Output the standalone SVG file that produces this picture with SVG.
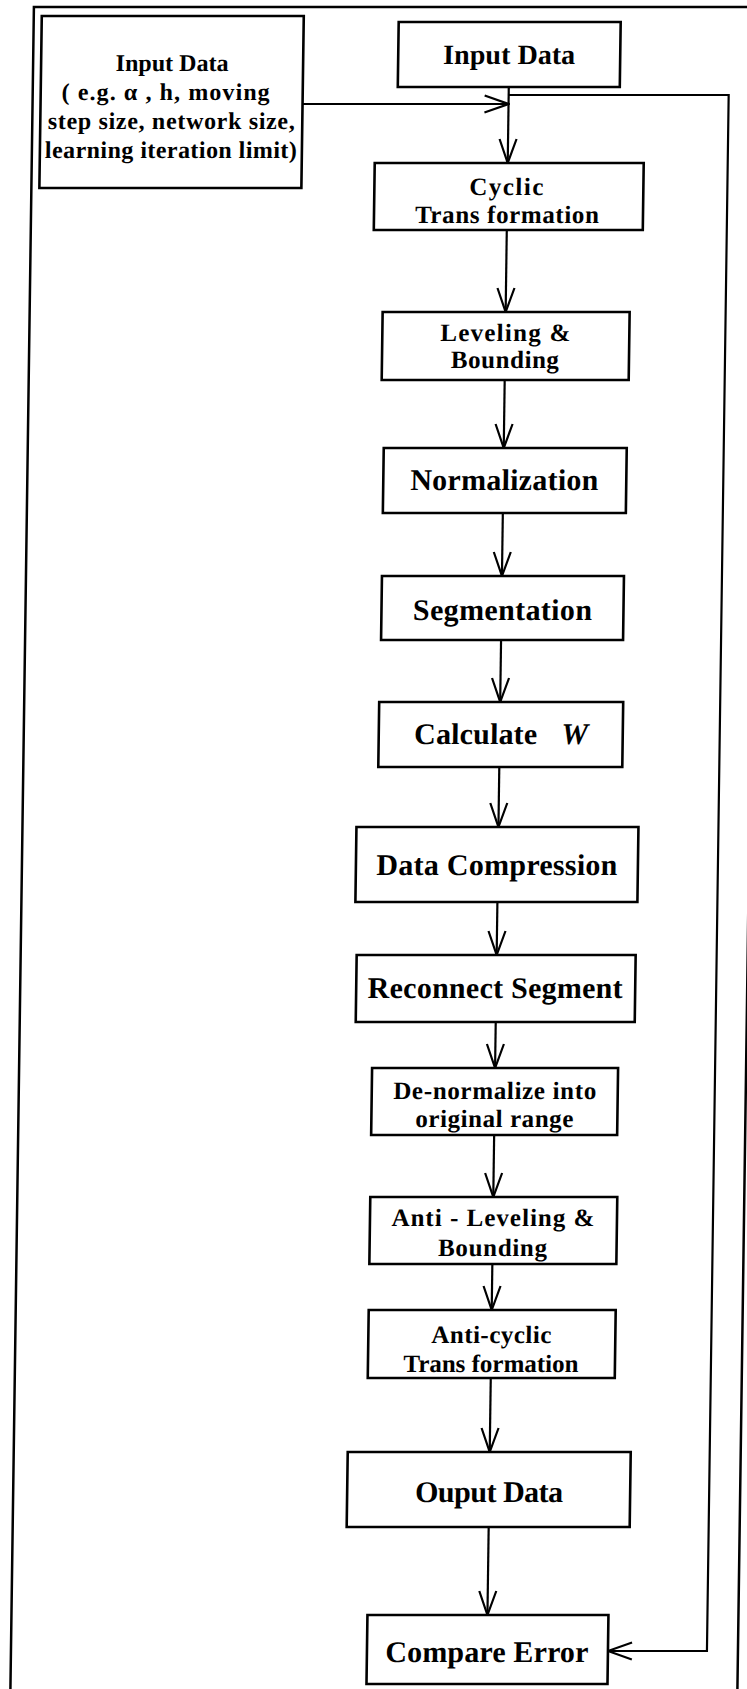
<svg xmlns="http://www.w3.org/2000/svg" width="747" height="1689" viewBox="0 0 747 1689">
  <defs>
    <marker id="arrow" viewBox="0 0 26 20" refX="25" refY="10" markerWidth="26" markerHeight="20" markerUnits="userSpaceOnUse" orient="auto">
      <path d="M1,1.5 L25,10 L1,18.5" fill="none" stroke="#000" stroke-width="2.2"/>
    </marker>
    <style>
      .frame { fill: none; stroke: #000; stroke-width: 2.5; }
      .box { fill: #fff; stroke: #000; stroke-width: 2.6; }
      .edge { fill: none; stroke: #000; stroke-width: 2.2; marker-end: url(#arrow); }
      text { font-family: "Liberation Serif", "Times New Roman", serif; font-weight: bold; fill: #000; text-anchor: middle; }
      .t1 { font-size: 30px; }
      .t2 { font-size: 25px; }
      .ts { font-size: 24px; }
      .tin { font-size: 28px; }
    </style>
  </defs>
  <rect width="747" height="1689" fill="#fff"/>
  <!-- whole sheet is drawn with a slight horizontal skew -->
  <g transform="skewX(-0.8)">
    <rect class="frame" x="34" y="7" width="727" height="1720"/>

    <g id="connectors">
      <line class="edge" x1="304" y1="104" x2="510" y2="104"/>
      <line class="edge" x1="510" y1="87" x2="510" y2="163"/>
      <polyline class="edge" points="510,95 730,95 730,1651 631,1651"/>
      <line class="edge" x1="510" y1="230" x2="510" y2="312"/>
      <line class="edge" x1="510" y1="380" x2="510" y2="448"/>
      <line class="edge" x1="510" y1="513" x2="510" y2="576"/>
      <line class="edge" x1="510" y1="640" x2="510" y2="702"/>
      <line class="edge" x1="510" y1="767" x2="510" y2="827"/>
      <line class="edge" x1="510" y1="902" x2="510" y2="955"/>
      <line class="edge" x1="510" y1="1022" x2="510" y2="1068"/>
      <line class="edge" x1="510" y1="1135" x2="510" y2="1197"/>
      <line class="edge" x1="510" y1="1264" x2="510" y2="1310"/>
      <line class="edge" x1="510" y1="1378" x2="510" y2="1452"/>
      <line class="edge" x1="510" y1="1527" x2="510" y2="1615"/>
    </g>

    <g id="params">
      <rect class="box" x="42" y="16" width="262" height="172"/>
      <text class="ts" x="173" y="71" textLength="113">Input Data</text>
      <text class="ts" x="167" y="100" textLength="208">( e.g. α  , h, moving</text>
      <text class="ts" x="173" y="129" textLength="247">step size, network size,</text>
      <text class="ts" x="173" y="158" textLength="252">learning iteration limit)</text>
    </g>

    <g id="input">
      <rect class="box" x="399" y="22" width="222" height="65"/>
      <text class="tin" x="510" y="64" textLength="132">Input Data</text>
    </g>

    <g id="cyclic">
      <rect class="box" x="377" y="163" width="269" height="67"/>
      <text class="t2" x="509" y="195" textLength="74">Cyclic</text>
      <text class="t2" x="510" y="223" textLength="184">Trans formation</text>
    </g>

    <g id="leveling">
      <rect class="box" x="387" y="312" width="247" height="68"/>
      <text class="t2" x="510" y="341" textLength="130">Leveling &amp;</text>
      <text class="t2" x="510" y="368" textLength="108">Bounding</text>
    </g>

    <g id="normalization">
      <rect class="box" x="390" y="448" width="243" height="65"/>
      <text class="t1" x="511" y="490" textLength="188">Normalization</text>
    </g>

    <g id="segmentation">
      <rect class="box" x="390" y="576" width="242" height="64"/>
      <text class="t1" x="511" y="620" textLength="179">Segmentation</text>
    </g>

    <g id="calculate">
      <rect class="box" x="389" y="702" width="244" height="65"/>
      <text class="t1" x="486" y="744" textLength="123">Calculate</text>
      <text class="t1" x="585" y="744" font-style="italic">W</text>
    </g>

    <g id="compression">
      <rect class="box" x="368" y="827" width="282" height="75"/>
      <text class="t1" x="509" y="875" textLength="241">Data Compression</text>
    </g>

    <g id="reconnect">
      <rect class="box" x="370" y="955" width="279" height="67"/>
      <text class="t1" x="509" y="998" textLength="255">Reconnect Segment</text>
    </g>

    <g id="denormalize">
      <rect class="box" x="387" y="1068" width="246" height="67"/>
      <text class="t2" x="510" y="1099" textLength="203">De-normalize into</text>
      <text class="t2" x="510" y="1127" textLength="158">original range</text>
    </g>

    <g id="antileveling">
      <rect class="box" x="387" y="1197" width="247" height="67"/>
      <text class="t2" x="510" y="1226" textLength="203">Anti - Leveling &amp;</text>
      <text class="t2" x="510" y="1256" textLength="109">Bounding</text>
    </g>

    <g id="anticyclic">
      <rect class="box" x="387" y="1310" width="247" height="68"/>
      <text class="t2" x="510" y="1343" textLength="120">Anti-cyclic</text>
      <text class="t2" x="510" y="1372" textLength="175">Trans formation</text>
    </g>

    <g id="output">
      <rect class="box" x="368" y="1452" width="283" height="75"/>
      <text class="t1" x="510" y="1502" textLength="148">Ouput Data</text>
    </g>

    <g id="compare">
      <rect class="box" x="390" y="1615" width="241" height="69"/>
      <text class="t1" x="510" y="1662" textLength="203">Compare Error</text>
    </g>
  </g>
</svg>
